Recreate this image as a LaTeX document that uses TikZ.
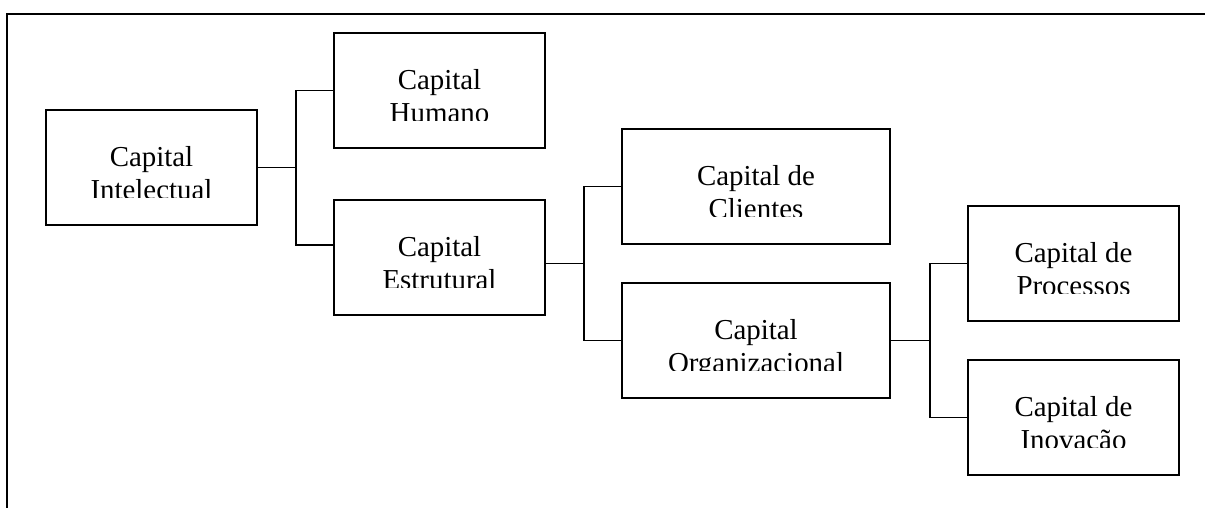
\documentclass[tikz,border=0pt]{standalone}
\usepackage{fontspec}
\setmainfont{Liberation Serif}
% box with a two-line caption whose second line is cut off at the bottom
\newcommand\capbox[6]{%
  \node[boxnode,minimum width=#4pt] (#1) at (#2,#3) {};
  \begin{scope}
    \clip (#2,#3) rectangle ({#2+#4},{#3+87});
    \node[captext] (#1-a) at ({#2+#4/2},{#3+56}) {#5};
    \node[captext] (#1-b) at ({#2+#4/2},{#3+89}) {#6};
  \end{scope}}
\begin{document}
\begin{tikzpicture}[x=1pt,y=-1pt,
  boxnode/.style={draw,line width=1.5pt,inner sep=0pt,outer sep=0pt,
    minimum height=115pt,anchor=north west},
  captext/.style={anchor=base,inner sep=0pt,font=\fontsize{28.9}{33}\selectfont},
  link/.style={line width=1.5pt}]
\useasboundingbox (0,0) rectangle (1205,507);
% outer frame
\draw[line width=1.7pt] (7,508) -- (7,14) -- (1206,14);

\capbox{int}{46}{110}{211}{Capital}{Intelectual}
\capbox{hum}{334}{33}{211}{Capital}{Humano}
\capbox{est}{334}{200}{211}{Capital}{Estrutural}
\capbox{cli}{622}{129}{268}{Capital de}{Clientes}
\capbox{org}{622}{283}{268}{Capital}{Organizacional}
\capbox{pro}{968}{206}{211}{Capital de}{Processos}
\capbox{ino}{968}{360}{211}{Capital de}{Inovação}

% branch junctions
\coordinate (s1) at (296,167.5);
\coordinate (s2) at (584,263.25);
\coordinate (s3) at (930,340.5);

\draw[link] (int.east) -- (s1);
\draw[link] (hum.west) -| (s1) |- ([yshift=-45pt]est.north west);

\draw[link] (est.east |- s2) -- (s2);
\draw[link] (cli.west) -| (s2) |- (org.west);

\draw[link] (org.east) -- (s3);
\draw[link] (pro.west) -| (s3) |- (ino.west);
\end{tikzpicture}
\end{document}
